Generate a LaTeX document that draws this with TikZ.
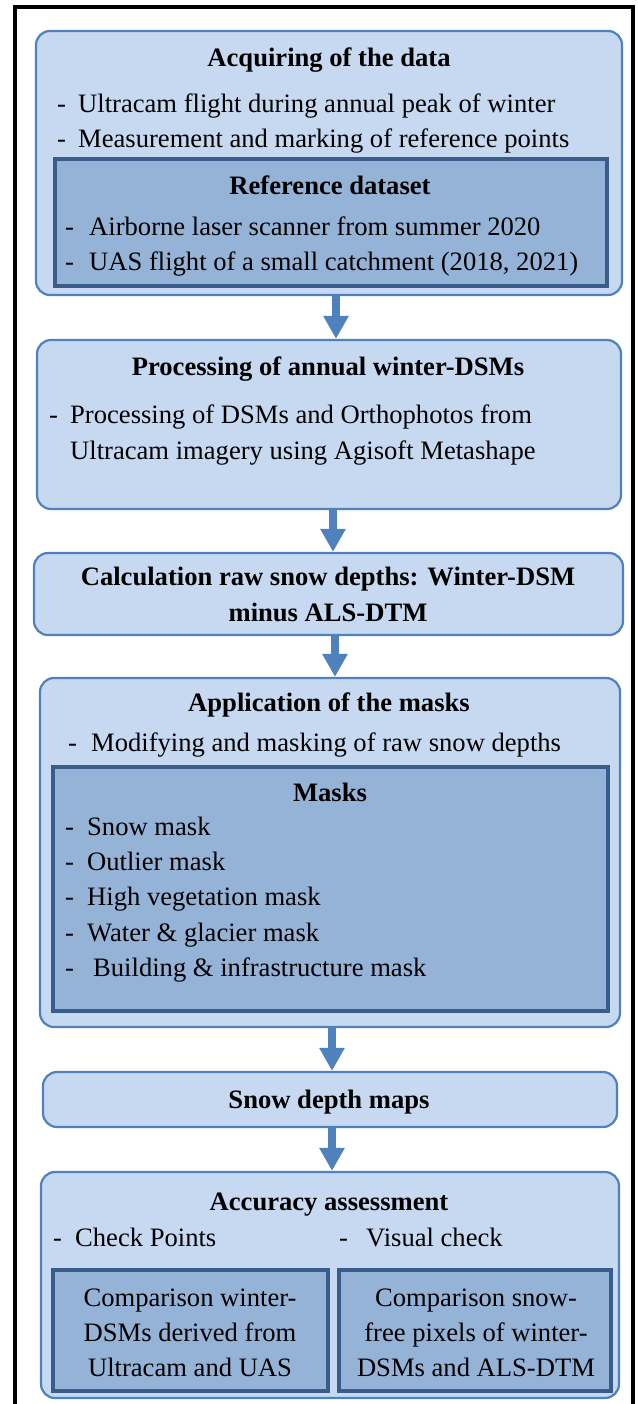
\documentclass[tikz,border=0pt]{standalone}
\usepackage{fontspec}
\setmainfont{Liberation Serif}
\usetikzlibrary{arrows.meta}
\definecolor{lightfill}{RGB}{198,217,241}
\definecolor{lightline}{RGB}{79,129,189}
\definecolor{darkfill}{RGB}{149,179,215}
\definecolor{darkline}{RGB}{56,93,138}
\definecolor{arrowblue}{RGB}{79,129,189}
\begin{document}
\begin{tikzpicture}[x=1pt,y=-1pt,
  outerbox/.style={draw=lightline, fill=lightfill, line width=2.2pt, rounded corners=14pt, inner sep=0pt},
  innerbox/.style={draw=darkline, fill=darkfill, line width=4pt, inner sep=0pt},
  txt/.style={inner sep=0pt, font=\fontsize{26.6}{35}\selectfont},
  ttl/.style={txt, font=\fontsize{26.6}{35}\selectfont\bfseries},
  flow/.style={draw=arrowblue, line width=8pt, -{Triangle[width=24pt,length=23pt]}}
]
\useasboundingbox (0,0) rectangle (637,1404);
% outer frame
\draw[line width=3.5pt, black] (15,1420) -- (15,7) -- (633,7) -- (633,1420);

% boxes
\node[outerbox, minimum width=586pt, minimum height=264pt] (b1) at (329,163) {};
\node[innerbox, minimum width=552pt, minimum height=127pt] (r1) at (331,222.5) {};
\node[outerbox, minimum width=584pt, minimum height=169pt] (b2) at (329,424.5) {};
\node[outerbox, minimum width=589pt, minimum height=82pt] (b3) at (328.5,594) {};
\node[outerbox, minimum width=580pt, minimum height=349pt] (b4) at (330,852.5) {};
\node[innerbox, minimum width=555pt, minimum height=244pt] (m4) at (330.5,889) {};
\node[outerbox, minimum width=574pt, minimum height=55pt] (b5) at (330,1099.5) {};
\node[outerbox, minimum width=578pt, minimum height=226pt] (b6) at (330,1285) {};
\node[innerbox, minimum width=275pt, minimum height=121pt] (c1) at (190.5,1330.5) {};
\node[innerbox, minimum width=272pt, minimum height=121pt] (c2) at (475,1330.5) {};

% box 1
\node[ttl, anchor=base] (t1) at (329,67) {Acquiring of the data};
\node[txt, anchor=base west] (t1a) at (57,113) {\makebox[21pt][l]{-}Ultracam flight during annual peak of winter};
\node[txt, anchor=base west] (t1b) at (57,148) {\makebox[21pt][l]{-}Measurement and marking of reference points};
\node[ttl, anchor=base] (tr) at (330,195) {Reference dataset};
\node[txt, anchor=base west] (tra) at (65,236) {\makebox[24pt][l]{-}Airborne laser scanner from summer 2020};
\node[txt, anchor=base west] (trb) at (65,271) {\makebox[24pt][l]{-}UAS flight of a small catchment (2018, 2021)};

% box 2
\node[ttl, anchor=base] (t2) at (328,375) {Processing of annual winter-DSMs};
\node[txt, anchor=base west] (t2a) at (49,423) {\makebox[21pt][l]{-}Processing of DSMs and Orthophotos from};
\node[txt, anchor=base west] (t2b) at (70,459) {Ultracam imagery using Agisoft Metashape};

% box 3
\node[ttl, anchor=base] (t3a) at (328,585) {Calculation raw snow depths: Winter-DSM};
\node[ttl, anchor=base] (t3b) at (328,621) {minus ALS-DTM};

% box 4
\node[ttl, anchor=base] (t4) at (329,711) {Application of the masks};
\node[txt, anchor=base west] (t4a) at (68,751) {\makebox[23pt][l]{-}Modifying and masking of raw snow depths};
\node[ttl, anchor=base] (tm) at (330,801) {Masks};
\node[txt, anchor=base west] (tma) at (65,835) {\makebox[22pt][l]{-}Snow mask};
\node[txt, anchor=base west] (tmb) at (65,870) {\makebox[22pt][l]{-}Outlier mask};
\node[txt, anchor=base west] (tmc) at (65,905) {\makebox[22pt][l]{-}High vegetation mask};
\node[txt, anchor=base west] (tmd) at (65,941) {\makebox[22pt][l]{-}Water \& glacier mask};
\node[txt, anchor=base west] (tme) at (65,976) {\makebox[28pt][l]{-}Building \& infrastructure mask};

% box 5
\node[ttl, anchor=base] (t5) at (329,1108) {Snow depth maps};

% box 6
\node[ttl, anchor=base] (t6) at (329,1210) {Accuracy assessment};
\node[txt, anchor=base west] (t6a) at (53,1246) {\makebox[22pt][l]{-}Check Points};
\node[txt, anchor=base west] (t6b) at (339,1246) {\makebox[27pt][l]{-}Visual check};
\node[txt, anchor=base] (c1a) at (190,1306) {Comparison winter-};
\node[txt, anchor=base] (c1b) at (190,1341) {DSMs derived from};
\node[txt, anchor=base] (c1c) at (190,1376) {Ultracam and UAS};
\node[txt, anchor=base] (c2a) at (476,1306) {Comparison snow-};
\node[txt, anchor=base] (c2b) at (476,1341) {free pixels of winter-};
\node[txt, anchor=base] (c2c) at (476,1376) {DSMs and ALS-DTM};

% arrows
\coordinate (ax1) at (336,0);
\coordinate (ax2) at (333,0);
\coordinate (ax3) at (335,0);
\coordinate (ax4) at (332,0);
\draw[flow] (b1.south -| ax1) -- (b2.north -| ax1);
\draw[flow] (b2.south -| ax2) -- (b3.north -| ax2);
\draw[flow] (b3.south -| ax3) -- (b4.north -| ax3);
\draw[flow] (b4.south -| ax4) -- (b5.north -| ax4);
\draw[flow] (b5.south -| ax4) -- (b6.north -| ax4);
\end{tikzpicture}
\end{document}
